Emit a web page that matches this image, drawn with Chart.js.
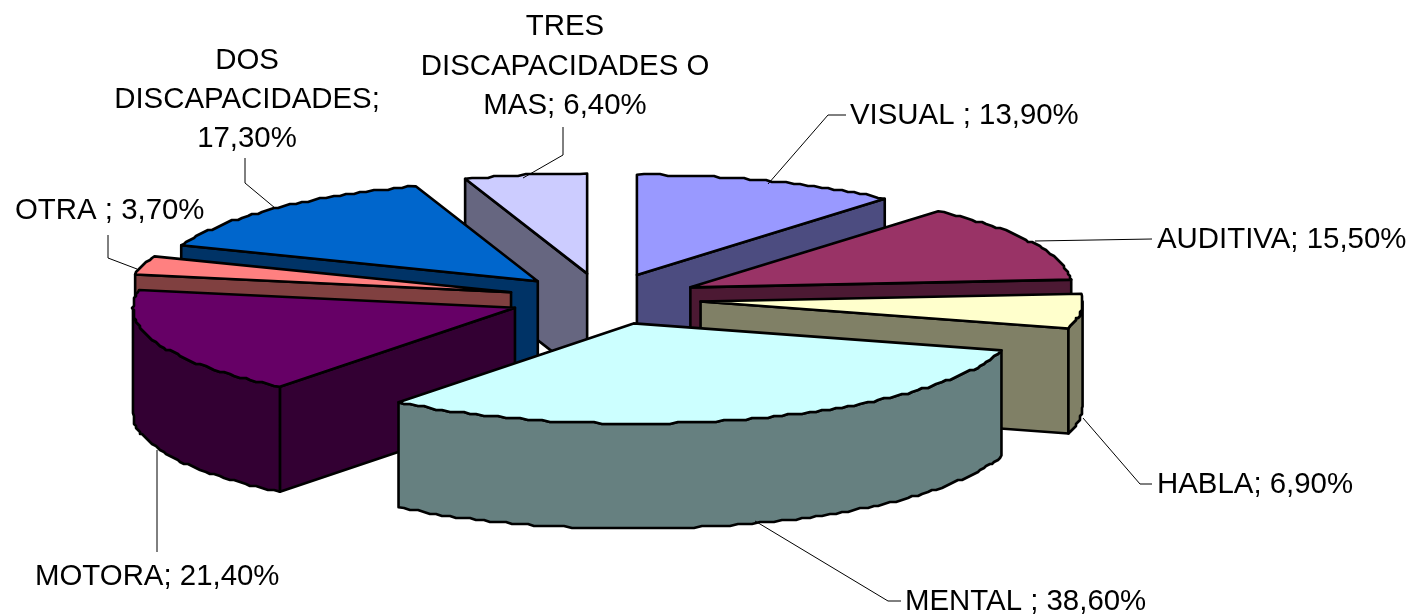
<!DOCTYPE html>
<html>
<head>
<meta charset="utf-8">
<style>html,body{margin:0;padding:0;background:#fff;overflow:hidden}canvas{display:block}</style>
<script src="https://cdn.jsdelivr.net/npm/chart.js@4/dist/chart.umd.js"></script>
</head>
<body>
<canvas id="c" width="1409" height="615"></canvas>
<script>
const categories = ['VISUAL ', 'AUDITIVA', 'HABLA', 'MENTAL ', 'MOTORA', 'OTRA ', 'DOS DISCAPACIDADES', 'TRES DISCAPACIDADES O MAS'];
const values = [13.9, 15.5, 6.9, 38.6, 21.4, 3.7, 17.3, 6.4];
const topColors = ['#9999FF', '#993366', '#FFFFCC', '#CCFFFF', '#660066', '#FF8080', '#0066CC', '#CCCCFF'];
const sideColors = ['#4C4C80', '#4C1933', '#808066', '#668080', '#330033', '#804040', '#003366', '#666680'];
const explode = [77, 77, 77, 77, 74, 75, 74, 77];
const paintOrder = [7, 0, 1, 6, 5, 4, 2, 3];

const view = { radius: 382, tilt: 0.262, depth: 105, grain: 2 };
const font = '29.4px "Liberation Sans", Arial, sans-serif';
const labelBoxes = [
  { lines: null, x: 850, y: 116, align: 'left', lead: [[768,184],[828,115],[846,115]] },
  { lines: null, x: 1157, y: 240, align: 'left', lead: [[1035,241],[1152,239]] },
  { lines: null, x: 1157, y: 485, align: 'left', lead: [[1083,418],[1140,484],[1152,484]] },
  { lines: null, x: 905, y: 602, align: 'left', lead: [[755,521],[888,601],[901,601]] },
  { lines: null, x: 35, y: 577, align: 'left', lead: [[157,450],[157,552]] },
  { lines: null, x: 15, y: 211, align: 'left', lead: [[137,269],[108,258],[108,235]] },
  { lines: ['DOS', 'DISCAPACIDADES;', null], x: 247, y: 61, step: 39, align: 'center', lead: [[275,208],[245,183],[245,158]] },
  { lines: ['TRES', 'DISCAPACIDADES O', null], x: 565, y: 27, step: 39.5, align: 'center', lead: [[523,178],[563,155],[563,127]] }
];
const labelSuffix = [' ; ', '; ', '; ', ' ; ', '; ', ' ; ', '', ''];
function pct(v) { return v.toFixed(2).replace('.', ',') + '%'; }
function labelLines(i) {
  const b = labelBoxes[i];
  if (!b.lines) return [categories[i].trim() + labelSuffix[i] + pct(values[i])];
  return b.lines.map(l => l === null ? (i === 7 ? 'MAS; ' : '') + pct(values[i]) : l);
}

const pie3d = {
  id: 'pie3d',
  beforeDatasetsDraw(chart) {
    const ctx = chart.ctx;
    const arcs = chart.getDatasetMeta(0).data;
    const first = arcs[0];
    const sx = view.radius / first.outerRadius;
    const sy = sx * view.tilt;
    const cx = first.x, cy = first.y;
    const snap = v => Math.round(v / view.grain) * view.grain;
    ctx.save();
    ctx.lineJoin = 'round';
    ctx.lineCap = 'round';
    ctx.lineWidth = 2.6;
    ctx.strokeStyle = '#000';
    for (const i of paintOrder) {
      const a = arcs[i];
      const mid = (a.startAngle + a.endAngle) / 2;
      const off = a.options.offset;
      const ax = Math.cos(mid) * off, ay = Math.sin(mid) * off;
      const pt = (ang, r, d) => [
        cx + sx * (ax + r * Math.cos(ang)),
        cy + sy * (ay + r * Math.sin(ang)) + d
      ];
      const R = a.outerRadius, d = view.depth;
      const poly = (pts, fill) => {
        ctx.beginPath();
        pts.forEach((p, k) => k ? ctx.lineTo(p[0], p[1]) : ctx.moveTo(p[0], p[1]));
        ctx.closePath();
        ctx.fillStyle = fill;
        ctx.fill();
        ctx.stroke();
      };
      // sampled rim: the inner samples are snapped to a coarse grid, which gives the stepped outline
      const steps = Math.max(8, Math.round((a.endAngle - a.startAngle) * 50));
      const rim = (angles, dz) => angles.map((g, k) => {
        const p = pt(g, R, dz);
        return (k === 0 || k === angles.length - 1) ? p : [snap(p[0]), snap(p[1])];
      });
      const all = [];
      for (let k = 0; k <= steps; k++) all.push(a.startAngle + (a.endAngle - a.startAngle) * k / steps);
      // radial walls that face the viewer
      if (Math.cos(a.startAngle) < 0) poly([pt(0, 0, 0), pt(a.startAngle, R, 0), pt(a.startAngle, R, d), pt(0, 0, d)], sideColors[i]);
      if (Math.cos(a.endAngle) > 0) poly([pt(0, 0, 0), pt(a.endAngle, R, 0), pt(a.endAngle, R, d), pt(0, 0, d)], sideColors[i]);
      // curved outer wall: only the part facing the viewer
      const front = all.filter(g => Math.sin(g) >= -0.001);
      if (front.length > 1) poly(rim(front, 0).concat(rim(front, d).reverse()), sideColors[i]);
      // top face
      poly([pt(0, 0, 0)].concat(rim(all, 0)), topColors[i]);
    }
    ctx.restore();
    return false;
  },
  afterDraw(chart) {
    const ctx = chart.ctx;
    ctx.save();
    ctx.strokeStyle = '#000';
    ctx.lineWidth = 1;
    ctx.fillStyle = '#000';
    ctx.font = font;
    ctx.textBaseline = 'middle';
    labelBoxes.forEach((b, i) => {
      ctx.beginPath();
      b.lead.forEach((p, k) => k ? ctx.lineTo(p[0], p[1]) : ctx.moveTo(p[0], p[1]));
      ctx.stroke();
      ctx.textAlign = b.align;
      labelLines(i).forEach((t, k) => ctx.fillText(t, b.x, b.y + k * (b.step || 0)));
    });
    ctx.restore();
  }
};

new Chart(document.getElementById('c'), {
  type: 'pie',
  data: {
    labels: categories,
    datasets: [{ data: values, backgroundColor: topColors, offset: explode, borderWidth: 0 }]
  },
  options: {
    responsive: false,
    animation: false,
    radius: 300,
    layout: { padding: { right: 203, bottom: 17 } },
    plugins: { legend: { display: false }, tooltip: { enabled: false } }
  },
  plugins: [pie3d]
});
</script>
</body>
</html>
